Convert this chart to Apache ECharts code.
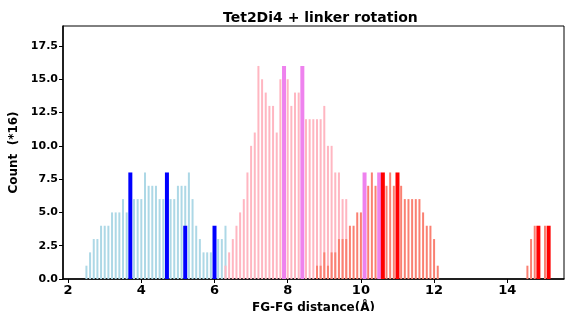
<!DOCTYPE html>
<html>
<head>
<meta charset="utf-8">
<script src="https://cdn.jsdelivr.net/npm/echarts@6/dist/echarts.min.js"></script>
<style>
  html, body { margin: 0; padding: 0; background: #fff; }
  #chart { width: 565px; height: 311px; }
</style>
</head>
<body>
<div id="chart"></div>
<script>
// bin positions (Å) and counts (*16)
const lightblueX = [2.5,2.6,2.7,2.8,2.9,3.0,3.1,3.2,3.3,3.4,3.5,3.6,
  3.8,3.9,4.0,4.1,4.2,4.3,4.4,4.5,4.6,
  4.8,4.9,5.0,5.1,5.2,5.3,5.4,5.5,5.6,5.7,5.8,5.9,
  6.1,6.2,6.3];
const lightblueY = [1,2,3,3,4,4,4,5,5,5,6,5,
  6,6,6,8,7,7,7,6,6,
  6,6,7,7,7,8,6,4,3,2,2,2,
  3,3,4];
const blueX = [3.7, 4.7, 5.2, 6.0];
const blueY = [8, 8, 4, 4];

const pinkX = [6.3,6.4,6.5,6.6,6.7,6.8,6.9,7.0,7.1,7.2,7.3,7.4,7.5,7.6,7.7,7.8,
  8.0,8.1,8.2,8.3,8.5,8.6,8.7,8.8,8.9,9.0,9.1,9.2,9.3,9.4,9.5,9.6];
const pinkY = [1,2,3,4,5,6,8,10,11,16,15,14,13,13,11,15,
  15,13,14,14,12,12,12,12,12,13,10,10,8,8,6,6];
const violetX = [7.9, 8.4, 10.1, 10.5];
const violetY = [16, 16, 8, 8];

const salmonX = [8.8,8.9,9.0,9.1,9.2,9.3,9.4,9.5,9.6,9.7,9.8,9.9,10.0,
  10.2,10.3,10.4,10.7,10.8,10.9,11.1,11.2,11.3,11.4,11.5,11.6,11.7,11.8,11.9,12.0,12.1,
  14.55,14.65,14.75,15.03];
const salmonY = [1,1,2,1,2,2,3,3,3,4,4,5,5,
  7,8,7,7,8,7,7,6,6,6,6,6,5,4,4,3,1,
  1,3,4,4];
const redX = [10.6, 11.0, 14.85, 15.13];
const redY = [8, 8, 4, 4];

const xTicks = [2, 4, 6, 8, 10, 12, 14];
const yTicks = [0, 2.5, 5, 7.5, 10, 12.5, 15, 17.5];

const font = 'DejaVu Sans';
const xMin = 1.86, xMax = 15.55;

function pairs(xs, ys) {
  return xs.map((x, i) => [x, ys[i]]);
}

// every series gets its own (hidden) x axis so the bars don't get side-by-side offsets
const groups = [
  { x: lightblueX, y: lightblueY, color: '#add8e6', w: 2 },
  { x: pinkX, y: pinkY, color: '#ffb6c1', w: 2 },
  { x: salmonX, y: salmonY, color: '#fa8072', w: 2 },
  { x: blueX, y: blueY, color: '#0000ff', w: 4 },
  { x: violetX, y: violetY, color: '#ee82ee', w: 4 },
  { x: redX, y: redY, color: '#ff0000', w: 4 }
];

const xAxes = groups.map((g, i) => {
  if (i > 0) {
    return { type: 'value', min: xMin, max: xMax, show: false };
  }
  return {
    type: 'value',
    min: xMin,
    max: xMax,
    name: 'FG-FG distance(Å)',
    nameLocation: 'middle',
    nameGap: 18,
    nameTextStyle: { fontFamily: font, fontWeight: 'bold', fontSize: 12, color: '#000' },
    axisLine: { show: true, lineStyle: { color: '#000', width: 1.5 } },
    axisTick: { show: true, length: 4, customValues: xTicks, lineStyle: { color: '#000', width: 1 } },
    axisLabel: {
      customValues: xTicks,
      fontFamily: font, fontWeight: 'bold', fontSize: 13, color: '#000', margin: 5
    },
    splitLine: { show: false }
  };
});

const chart = echarts.init(document.getElementById('chart'));
chart.setOption({
  animation: false,
  title: {
    text: 'Tet2Di4 + linker rotation',
    left: 218,
    top: 6,
    textStyle: { fontFamily: font, fontWeight: 'bold', fontSize: 14, color: '#000' }
  },
  grid: {
    left: 63, right: 1, top: 26, bottom: 32,
    outerBoundsMode: 'none',
    show: true, borderColor: '#000', borderWidth: 1
  },
  xAxis: xAxes,
  yAxis: {
    type: 'value',
    min: 0,
    max: 19,
    name: 'Count  (*16)',
    nameLocation: 'middle',
    nameGap: 43,
    nameMoveOverlap: false,
    nameTextStyle: { fontFamily: font, fontWeight: 'bold', fontSize: 12, color: '#000' },
    axisLine: { show: true, lineStyle: { color: '#000', width: 1.5 } },
    axisTick: { show: true, length: 4, customValues: yTicks, lineStyle: { color: '#000', width: 1 } },
    axisLabel: {
      customValues: yTicks,
      formatter: v => v.toFixed(1),
      fontFamily: font, fontWeight: 'bold', fontSize: 11, color: '#000', margin: 5
    },
    splitLine: { show: false }
  },
  series: groups.map((g, i) => ({
    type: 'bar',
    xAxisIndex: i,
    barWidth: g.w,
    itemStyle: { color: g.color },
    data: pairs(g.x, g.y)
  }))
});
</script>
</body>
</html>
